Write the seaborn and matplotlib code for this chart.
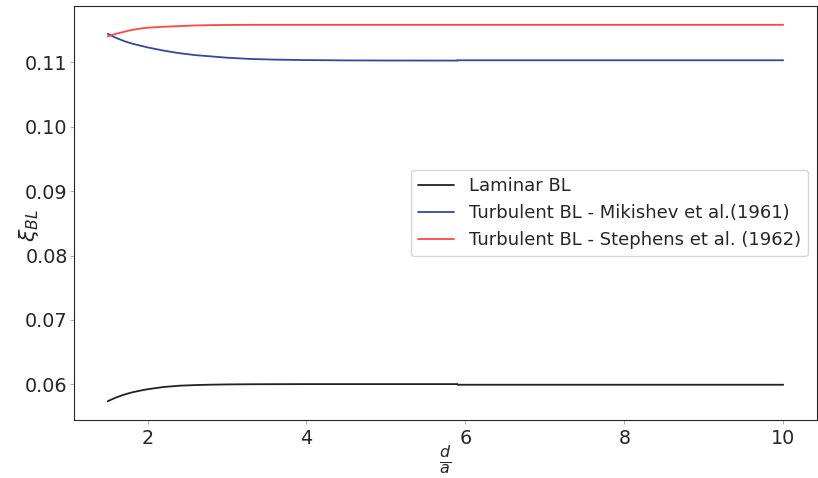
import matplotlib
matplotlib.use('Agg')
import matplotlib.pyplot as plt
import numpy as np
import pandas as pd
import seaborn as sns

# d/a values (the repeated 5.9 is the small jump seen in every curve)
x_vals = [1.5, 1.6, 1.7, 1.8, 1.9, 2.0, 2.2, 2.4, 2.6, 2.8, 3.0, 3.3, 3.6, 4.0, 4.5, 5.0, 5.9, 5.9, 10.0]

laminar = [0.0574, 0.05795, 0.05840, 0.05875, 0.05902, 0.05925, 0.0596, 0.0598, 0.0599, 0.05996,
           0.06000, 0.06003, 0.06004, 0.06005, 0.06005, 0.06005, 0.06005, 0.05995, 0.05995]
mikishev = [0.1144, 0.1138, 0.1133, 0.1129, 0.1126, 0.1123, 0.1118, 0.1114, 0.1111, 0.1109,
            0.1107, 0.1105, 0.1104, 0.11033, 0.11028, 0.11026, 0.11025, 0.11030, 0.11030]
stephens = [0.1140, 0.1144, 0.1147, 0.1150, 0.1152, 0.11535, 0.1155, 0.1156, 0.11570, 0.11575,
            0.11578, 0.1158, 0.1158, 0.1158, 0.1158, 0.1158, 0.1158, 0.1158, 0.1158]

labels = ['Laminar BL', 'Turbulent BL - Mikishev et al.(1961)', 'Turbulent BL - Stephens et al. (1962)']
colors = ['#222222', '#3446a8', '#ff4545']

frames = []
for lab, ys in zip(labels, [laminar, mikishev, stephens]):
    frames.append(pd.DataFrame({'d/a': x_vals, 'xi': ys, 'model': lab}))
df = pd.concat(frames, ignore_index=True)

sns.set_style('white', {'xtick.bottom': True, 'ytick.left': True})
plt.rcParams['xtick.major.size'] = 3
plt.rcParams['ytick.major.size'] = 3
plt.rcParams['xtick.color'] = '.7'
plt.rcParams['ytick.color'] = '.7'
plt.rcParams['xtick.labelcolor'] = '.15'
plt.rcParams['ytick.labelcolor'] = '.15'

fig, ax = plt.subplots(figsize=(8.18, 4.78), dpi=100)
sns.lineplot(data=df, x='d/a', y='xi', hue='model', palette=colors,
             estimator=None, sort=False, linewidth=1.3, ax=ax)

ax.set_xlabel(r'$\frac{d}{a}$', fontsize=16.5)
ax.set_ylabel(r'$\xi_{BL}$', fontsize=16)
ax.xaxis.set_label_coords(0.5, -0.057)
ax.yaxis.set_label_coords(-0.045, 0.47)
ax.tick_params(labelsize=13.8)
ax.tick_params(axis='y', pad=1.5)
ax.set_xticks([2, 4, 6, 8, 10])
ax.set_yticks([0.06, 0.07, 0.08, 0.09, 0.10, 0.11])
ax.yaxis.set_major_formatter(matplotlib.ticker.FormatStrFormatter('%.2f'))

ax.legend(loc='center right', fontsize=13, title=None)

fig.subplots_adjust(left=74 / 818, right=817 / 818, top=1 - 6 / 478, bottom=1 - 420 / 478)
fig.savefig('out.png', dpi=100)
